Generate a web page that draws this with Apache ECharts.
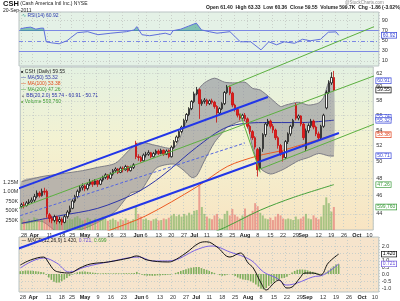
<!DOCTYPE html>
<html><head><meta charset="utf-8">
<script src="https://cdn.jsdelivr.net/npm/echarts@6/dist/echarts.min.js"></script>
<style>html,body{margin:0;padding:0;background:#fff;}#chart{width:400px;height:301px;}</style>
</head><body><div id="chart"></div>
<script>
// ---------- categories (trading days 2011) ----------
const dates = ['3/25','3/28','3/29','3/30','3/31',
 '4/1','4/4','4/5','4/6','4/7','4/8','4/11','4/12','4/13','4/14','4/15','4/18','4/19','4/20','4/21','4/25','4/26','4/27','4/28','4/29',
 '5/2','5/3','5/4','5/5','5/6','5/9','5/10','5/11','5/12','5/13','5/16','5/17','5/18','5/19','5/20','5/23','5/24','5/25','5/26','5/27','5/31',
 '6/1','6/2','6/3','6/6','6/7','6/8','6/9','6/10','6/13','6/14','6/15','6/16','6/17','6/20','6/21','6/22','6/23','6/24','6/27','6/28','6/29','6/30',
 '7/1','7/5','7/6','7/7','7/8','7/11','7/12','7/13','7/14','7/15','7/18','7/19','7/20','7/21','7/22','7/25','7/26','7/27','7/28','7/29',
 '8/1','8/2','8/3','8/4','8/5','8/8','8/9','8/10','8/11','8/12','8/15','8/16','8/17','8/18','8/19','8/22','8/23','8/24','8/25','8/26','8/29','8/30','8/31',
 '9/1','9/2','9/6','9/7','9/8','9/9','9/12','9/13','9/14','9/15','9/16','9/19','9/20','9/21','9/22','9/23','9/26','9/27','9/28','9/29','9/30',
 '10/3','10/4','10/5','10/6','10/7','10/10','10/11'];
const tickDates = ['3/28','4/1','4/11','4/18','4/25','5/2','5/9','5/16','5/23','6/1','6/6','6/13','6/20','6/27','7/1','7/11','7/18','7/25','8/1','8/8','8/15','8/22','8/29','9/1','9/12','9/19','9/26','10/3','10/10'];
const tickTexts = ['28','Apr','11','18','25','May','9','16','23','Jun','6','13','20','27','Jul','11','18','25','Aug','8','15','22','29','Sep','12','19','26','Oct','10'];
const monthNames = ['Apr','May','Jun','Jul','Aug','Sep','Oct'];

// ---------- price candles [open, close, low, high] ----------
const candles = [
 [44.8,45.0,44.6,45.2],[45.0,44.9,44.6,45.3],[44.9,45.2,44.8,45.4],[45.2,45.3,45.0,45.6],[45.3,45.5,45.1,45.8],
 [45.5,45.9,45.3,46.2],[45.9,46.3,45.7,46.6],[46.3,46.0,45.8,46.5],[46.0,46.5,45.9,46.8],[46.5,46.4,46.1,46.9],
 [46.5,44.0,43.6,46.7],[43.9,43.5,43.1,44.1],[43.5,43.3,43.0,43.8],[43.3,43.7,43.1,43.9],[43.7,43.2,42.9,43.8],
 [43.2,43.4,43.0,43.7],[43.4,43.1,42.8,43.6],[43.1,43.7,43.0,43.9],[43.7,44.2,43.5,44.4],[44.2,44.6,44.0,44.9],
 [44.6,45.4,44.5,45.6],[45.4,45.9,45.2,46.1],[45.9,46.5,45.7,46.7],[46.5,46.9,46.3,47.2],[46.9,47.1,46.6,47.4],
 [47.1,46.8,46.5,47.3],[46.8,47.3,46.6,47.5],[47.3,47.6,47.1,47.9],[47.6,47.3,47.0,47.8],[47.3,47.7,47.2,47.9],
 [47.7,47.3,47.0,47.8],[47.3,47.8,47.2,48.0],[47.8,48.1,47.6,48.3],[48.1,48.4,47.9,48.6],[48.4,48.0,47.8,48.5],
 [48.0,48.5,47.9,48.7],[48.5,48.9,48.3,49.1],[48.9,49.1,48.7,49.3],[49.1,48.7,48.5,49.2],[48.7,49.2,48.6,49.4],
 [49.2,49.0,48.7,49.4],[49.0,49.4,48.9,49.6],[49.4,48.9,48.7,49.5],[48.9,49.3,48.8,49.5],[49.3,49.6,49.1,49.8],
 [52.3,50.6,50.3,52.6],[50.6,50.5,50.1,50.9],[50.5,50.1,49.9,50.7],[50.1,50.8,50.0,51.0],[50.8,50.9,50.5,51.2],
 [50.9,51.1,50.7,51.4],[51.1,50.6,50.4,51.2],[50.6,51.0,50.5,51.2],[51.0,51.3,50.8,51.5],[51.3,51.0,50.8,51.5],
 [51.0,51.4,50.9,51.6],[51.4,50.9,50.7,51.5],[50.9,51.3,50.8,51.5],[51.4,50.6,50.4,51.5],[50.6,51.8,50.5,52.0],
 [51.8,52.5,51.6,52.7],[52.5,53.1,52.3,53.3],[53.1,53.8,52.9,54.0],[53.8,54.4,53.6,54.6],[54.4,55.3,54.2,55.5],
 [55.3,56.1,55.0,56.3],[56.1,56.9,55.9,57.1],[56.9,57.9,56.7,58.1],[57.9,59.0,57.7,59.3],[59.0,59.6,58.8,60.0],
 [59.6,57.6,55.5,59.8],[57.6,57.9,57.3,58.2],[57.9,58.1,57.6,58.4],[58.1,57.6,57.3,58.3],[57.6,58.0,57.4,58.2],
 [58.0,57.8,57.5,58.3],[57.8,57.2,56.9,58.0],[57.2,56.3,55.0,57.4],[56.3,56.9,56.0,57.1],[56.9,57.6,56.7,57.8],
 [57.6,59.2,57.4,59.4],[59.2,60.0,59.0,60.3],[60.0,59.1,58.8,60.2],[59.1,57.4,57.1,59.3],[57.4,56.8,56.5,57.6],
 [56.8,56.0,55.7,57.0],[56.0,55.6,55.3,56.2],[55.6,56.0,55.4,56.2],[56.0,55.5,55.2,56.3],[55.5,54.5,54.2,55.7],
 [54.5,53.8,53.5,54.7],[53.8,53.0,52.7,54.0],[53.0,51.8,51.5,53.2],[51.5,49.0,48.2,51.7],[49.2,51.6,48.9,51.8],
 [51.6,53.4,51.2,53.6],[53.4,54.8,53.1,55.0],[54.8,55.2,54.5,55.5],[55.2,54.5,54.2,55.4],[54.5,54.0,53.6,54.8],
 [54.0,53.0,52.7,54.2],[53.0,52.0,51.6,53.2],[52.0,51.0,50.7,52.2],[51.0,50.5,50.0,51.3],[50.5,52.5,50.3,52.7],
 [52.5,53.5,52.2,53.7],[53.5,54.5,53.2,54.7],[54.5,55.3,54.2,55.5],[57.4,55.6,55.3,57.7],[55.6,55.9,55.3,56.1],
 [55.9,54.8,54.5,56.0],[54.8,53.0,52.7,55.0],[51.6,53.9,51.3,54.2],[53.9,54.6,53.6,54.9],[54.6,55.2,54.3,55.5],
 [55.2,54.4,54.1,55.4],[54.4,53.5,53.2,54.6],[53.5,53.0,52.6,53.8],[53.0,54.5,52.8,54.7],[54.5,56.0,54.3,56.2],
 [57.0,59.2,56.8,59.5],[59.2,60.6,59.0,61.0],[60.6,61.4,60.3,62.2],[61.4,59.55,59.4,62.4]
];
// ---------- volume (thousands) ----------
const volumeK = [300,250,220,280,260,330,300,240,280,320,
 560,420,350,300,280,260,300,240,260,300,
 280,330,360,300,250,270,320,280,240,300,
 260,280,350,300,240,270,300,260,220,280,
 250,300,260,240,280,600,420,350,280,300,
 260,240,280,300,250,260,300,280,320,380,
 420,360,400,350,420,380,450,400,500,520,
 1170,600,420,350,300,280,380,420,300,280,
 420,500,380,550,400,350,300,380,560,380,
 420,500,700,620,450,380,300,280,320,260,
 350,420,380,300,280,300,280,260,350,280,
 300,350,420,300,280,380,320,280,350,650,
 850,700,480,599.76];
// ---------- overlays [dayIndex, value] ----------
const ma50Pts  = [[0,43.0],[15,43.8],[30,44.6],[45,46.3],[55,48.2],[69,51.8],[81,54.4],[95,55.0],[110,55.0],[123,55.32]];
const ma100Pts = [[30,41.8],[34,42.2],[49,43.8],[69,47.0],[81,49.4],[93,50.7],[103,51.4],[123,53.38]];
const ma200Pts = [[60,41.0],[76,42.1],[94,44.4],[107,45.8],[123,47.26]];
const bbUpper = [[0,47.6],[8,48.2],[15,48.5],[24,48.9],[30,49.3],[37,49.8],[43,51.6],[47,52.4],[53,52.0],[60,51.7],[64,54.4],[67,57.4],[69,59.3],[72,60.6],[76,61.3],[80,60.7],[84,60.6],[88,60.7],[91,59.8],[94,59.55],[98,58.4],[102,57.2],[104,57.4],[109,57.8],[113,57.4],[117,57.7],[119,58.5],[121,60.7],[123,61.0]];
const bbLower = [[0,43.0],[8,43.2],[15,42.0],[24,42.4],[30,43.1],[37,44.3],[43,46.3],[47,46.6],[53,49.2],[60,49.7],[64,48.9],[67,48.1],[69,48.3],[72,50.1],[76,52.4],[79,53.6],[81,54.4],[88,55.2],[91,51.8],[94,49.2],[98,48.5],[102,48.9],[104,49.2],[109,50.1],[113,50.5],[117,51.0],[121,50.7],[123,50.7]];
// hand drawn trend lines [dayIndex, price]
const channelUpper = [[-7.79,46.10],[97.18,58.54]];
const channelLower = [[-7.79,39.82],[124.66,53.62]];
const forkTop    = [[80.76,59.99],[144.88,70.63]];
const forkMid    = [[-7.79,43.90],[144.88,62.53]];
const forkBottom = [[93.36,48.99],[144.88,55.62]];
const forkHandle = [[86.49,56.30],[93.74,48.70]];
const dashedLine = [[-7.79,43.16],[87.63,52.33]];
// ---------- RSI ----------
const rsiPts = [[0,73.5],[2,76],[4,77],[6,73],[8,75],[9,75],[10,48],[12,46],[15,44],[18,50],[22,66],[26,68],[30,62],[35,65],[41,68],[44,71.5],[45,78],[47,62],[50,60],[56,65],[58,62],[59,70],[62,73],[65,79],[68,85],[70,71.5],[73,68],[76,65],[81,68],[83,58],[85,48],[89,48],[93,32],[96,48],[99,42],[102,48],[106,45],[109,53],[112,50],[116,53],[119,67],[122,67.6],[123,60.92]];
// ---------- MACD ----------
const macdPts = [[0,0.64],[4,1.0],[9,1.21],[11,0.79],[13,0.29],[15,0.14],[19,0.07],[23,0.43],[27,0.71],[34,0.86],[42,1.14],[45,1.29],[49,1.0],[57,0.86],[59,0.93],[64,1.5],[69,2.2],[72,2.3],[76,1.93],[81,1.21],[85,1.5],[88,0.79],[90,0.43],[93,-0.64],[95,-1.14],[98,-0.64],[100,-0.43],[103,-1.0],[105,-0.93],[108,-0.29],[110,0.07],[113,0.07],[116,-0.07],[119,0.79],[123,1.42]];
const signalPts = [[0,0.43],[9,1.14],[14,0.79],[19,0.14],[25,0.5],[34,0.86],[46,1.21],[51,0.93],[57,0.93],[69,1.8],[74,2.0],[81,1.57],[89,1.0],[94,0.14],[99,-0.29],[103,-0.79],[107,-0.64],[113,-0.21],[117,-0.07],[123,0.72]];
const macdHist = [0.20,0.22,0.25,0.25,0.24,0.22,0.20,0.18,0.15,0.12,
 -0.05,-0.25,-0.42,-0.55,-0.62,-0.60,-0.52,-0.40,-0.28,-0.15,
 -0.05,0.05,0.12,0.16,0.18,0.17,0.15,0.12,0.10,0.08,
 0.05,0.04,0.05,0.06,0.05,0.04,0.05,0.06,0.05,0.04,
 0.05,0.06,0.05,0.06,0.07,0.15,0.05,-0.05,-0.10,-0.12,
 -0.12,-0.13,-0.12,-0.10,-0.10,-0.08,-0.08,-0.06,-0.05,0.00,
 0.08,0.15,0.22,0.28,0.34,0.40,0.45,0.48,0.50,0.50,
 0.42,0.36,0.30,0.22,0.15,0.08,0.00,-0.08,-0.12,-0.10,
 -0.05,0.00,-0.05,-0.15,-0.25,-0.33,-0.40,-0.42,-0.45,-0.52,
 -0.62,-0.75,-0.90,-1.05,-1.10,-1.00,-0.85,-0.70,-0.55,-0.42,
 -0.35,-0.30,-0.28,-0.20,-0.05,0.10,0.22,0.30,0.33,0.32,
 0.30,0.26,0.20,0.15,0.10,0.05,0.02,0.00,0.10,0.25,
 0.40,0.55,0.68,0.70];
// ---------- axis ticks ----------
const rsiTicks = [10,30,50,70,90];
const priceTicks = [44,46,48,50,52,54,56,58,60,62];
const macdTicks = [-1.0,-0.5,0.0,0.5,1.0,1.5,2.0];
const volTicks = [250,500,750,1000,1250];
const volTickTexts = ['250K','500K','750K','1.00M','1.25M'];
const priceBoxes = [60.91,59.55,55.74,55.32,53.38,50.71,47.26];
const priceBoxColors = ['#3a48d8','#000000','#3a48d8','#3a48d8','#e0401a','#3a48d8','#3a9a3a'];

// ---------- layout ----------
const GL = 19, GW = 364;
const rsiTop = 12, rsiH = 54, mainTop = 67, mainH = 163, macdTop = 237, macdH = 55;
const rsiMin = 0, rsiMax = 107;
const y70 = rsiTop + rsiH * (rsiMax - 70) / (rsiMax - rsiMin);
const FONT = 'Liberation Sans';
const gridLine = {show:true, lineStyle:{color:'#c9cfc9', type:[1,2], width:1}};
const isTick = (idx, val) => tickDates.indexOf(val) >= 0;
const tickFmt = (val) => { const k = tickDates.indexOf(val); if (k < 0) return ''; const t = tickTexts[k]; return monthNames.indexOf(t) >= 0 ? '{m|' + t + '}' : t; };

function xAxisFor(gi, showLabel){
  return {type:'category', gridIndex:gi, data:dates, boundaryGap:true,
    axisLine:{show:false}, axisTick:{show:false},
    axisLabel:{show:showLabel, interval:isTick, formatter:tickFmt, fontSize:5.5, color:'#333', margin:2, fontFamily:FONT,
      rich:{m:{fontWeight:'bold', fontSize:5.5, color:'#222', fontFamily:FONT}}},
    splitLine:Object.assign({interval:isTick}, gridLine)};
}
const boxRich = {};
priceBoxColors.forEach((c,k)=>{ boxRich['b'+k] = {color:c, borderColor:c, borderWidth:0.7, backgroundColor:'#fff', padding:[0,1,0,1], fontSize:5, fontFamily:FONT}; });
const near = (a,b)=>Math.abs(a-b)<0.005;

const candleData = candles.map(c=>[c[0],c[1],c[2],c[3]]);
const volData = volumeK.map((v,i)=>{
  const up = i === 0 ? candles[i][1] >= candles[i][0] : candles[i][1] >= candles[i-1][1];
  return {value:v, itemStyle:{color: up ? 'rgba(120,175,90,0.62)' : 'rgba(228,120,115,0.65)'}};
});
function trend(data, color, width, type){
  return {type:'line', xAxisIndex:1, yAxisIndex:1, data:data, clip:false, symbol:'none', silent:true, z:10,
    lineStyle:{color:color, width:width, type:type||'solid'}};
}

const chart = echarts.init(document.getElementById('chart'), null, {renderer:'canvas'});
chart.setOption({
  animation:false,
  backgroundColor:'#ffffff',
  textStyle:{fontFamily:FONT},
  grid:[
    {left:GL, width:GW, top:rsiTop, height:rsiH, show:true, backgroundColor:'#e4f1e6', borderColor:'#b9c3c3', borderWidth:1},
    {left:GL, width:GW, top:mainTop, height:mainH, show:true, borderColor:'#b9c3c3', borderWidth:1,
      backgroundColor:{type:'linear',x:0,y:0,x2:0,y2:1,colorStops:[{offset:0,color:'#e3f1e1'},{offset:0.45,color:'#f3f2d2'},{offset:1,color:'#f8e4c2'}]}},
    {left:GL, width:GW, top:macdTop, height:macdH, show:true, backgroundColor:'#f6e4cc', borderColor:'#b9c3c3', borderWidth:1}
  ],
  xAxis:[xAxisFor(0,false), xAxisFor(1,true), xAxisFor(2,true)],
  yAxis:[
    {type:'value', gridIndex:0, position:'right', min:rsiMin, max:rsiMax,
      axisLine:{show:false}, axisTick:{show:false, customValues:rsiTicks},
      axisLabel:{customValues:rsiTicks.concat([60.92]), fontSize:5.5, color:'#333', margin:3,
        formatter:v=> near(v,60.92) ? '{b|60.92}' : String(v),
        rich:{b:{color:'#3a48d8', borderColor:'#3a48d8', borderWidth:0.7, backgroundColor:'#fff', padding:[0,1,0,1], fontSize:5}}},
      splitLine:gridLine},
    {type:'log', gridIndex:1, position:'right', min:42.3, max:63.0,
      axisLine:{show:false}, axisTick:{show:false, customValues:priceTicks},
      axisLabel:{customValues:priceTicks.concat(priceBoxes), fontSize:5.5, color:'#333', margin:3,
        formatter:v=>{ for (let k=0;k<priceBoxes.length;k++){ if (near(v,priceBoxes[k])) return '{b'+k+'|'+priceBoxes[k].toFixed(2)+'}'; } return String(Math.round(v)); },
        rich:boxRich},
      splitLine:gridLine},
    {type:'value', gridIndex:1, position:'left', min:0, max:4250, interval:250,
      axisLine:{show:false}, axisTick:{show:false}, splitLine:{show:false},
      axisLabel:{fontSize:5.5, color:'#333', margin:2, formatter:v=>{ const k = volTicks.indexOf(v); return k>=0 ? volTickTexts[k] : ''; }}},
    {type:'value', gridIndex:1, position:'right', min:0, max:4250,
      axisLine:{show:false}, axisTick:{show:false}, splitLine:{show:false},
      axisLabel:{customValues:[599.76], fontSize:5, margin:3, formatter:()=>'{g|599,760}',
        rich:{g:{color:'#3a9a3a', borderColor:'#3a9a3a', borderWidth:0.7, backgroundColor:'#fff', padding:[0,1,0,1], fontSize:5}}}},
    {type:'value', gridIndex:2, position:'right', min:-1.286, max:2.643,
      axisLine:{show:false}, axisTick:{show:false, customValues:macdTicks},
      axisLabel:{customValues:macdTicks.concat([1.42,0.721]), fontSize:5.5, color:'#333', margin:3,
        formatter:v=> near(v,1.42) ? '{k|1.420}' : near(v,0.721) ? '{p|0.721}' : v.toFixed(1),
        rich:{k:{color:'#000', borderColor:'#000', borderWidth:0.7, backgroundColor:'#fff', padding:[0,1,0,1], fontSize:5},
              p:{color:'#6a50d8', borderColor:'#6a50d8', borderWidth:0.7, backgroundColor:'#fff', padding:[0,1,0,1], fontSize:5}}},
      splitLine:gridLine}
  ],
  series:[
    // RSI
    {type:'line', xAxisIndex:0, yAxisIndex:0, data:rsiPts, symbol:'none', silent:true, z:5,
      lineStyle:{color:'#5f6fdc', width:1},
      areaStyle:{origin:'start', color:{type:'linear', x:0, y:0, x2:0, y2:301, global:true,
        colorStops:[{offset:0,color:'rgba(40,150,130,0.75)'},{offset:y70/301,color:'rgba(40,150,130,0.75)'},{offset:y70/301+0.0005,color:'rgba(0,0,0,0)'},{offset:1,color:'rgba(0,0,0,0)'}]}},
      markLine:{silent:true, symbol:'none', label:{show:false}, lineStyle:{color:'#7c89e4', width:1, type:'solid'},
        data:[{yAxis:70},{yAxis:30},{yAxis:50, lineStyle:{type:[4,2,1,2]}}]}},
    // Bollinger band
    {type:'custom', xAxisIndex:1, yAxisIndex:1, data:[[0,50]], clip:true, silent:true, z:1,
      renderItem:(params, api)=>{
        const up = bbUpper.map(p=>api.coord(p));
        const lo = bbLower.map(p=>api.coord(p));
        return {type:'group', children:[
          {type:'polygon', shape:{points:up.concat(lo.slice().reverse()), smooth:0.25}, style:{fill:'rgba(135,135,148,0.55)'}},
          {type:'polyline', shape:{points:up, smooth:0.25}, style:{stroke:'#7d7d86', lineWidth:1, fill:null}},
          {type:'polyline', shape:{points:lo, smooth:0.25}, style:{stroke:'#7d7d86', lineWidth:1, fill:null}}
        ]};
      }},
    // Volume
    {type:'bar', xAxisIndex:1, yAxisIndex:2, data:volData, barWidth:2, silent:true, z:2},
    // Moving averages
    {type:'line', xAxisIndex:1, yAxisIndex:1, data:ma200Pts, symbol:'none', smooth:0.3, silent:true, z:3, lineStyle:{color:'#45a03a', width:1}},
    {type:'line', xAxisIndex:1, yAxisIndex:1, data:ma100Pts, symbol:'none', smooth:0.3, silent:true, z:3, lineStyle:{color:'#ec5a22', width:1}},
    {type:'line', xAxisIndex:1, yAxisIndex:1, data:ma50Pts, symbol:'none', smooth:0.3, silent:true, z:3, lineStyle:{color:'#2c34a8', width:1}},
    // Candles
    {type:'candlestick', xAxisIndex:1, yAxisIndex:1, data:candleData, barWidth:2, silent:true, z:6,
      itemStyle:{color:'#ffffff', color0:'#e41c1c', borderColor:'#111111', borderColor0:'#c80c0c', borderWidth:0.8}},
    // Trend lines
    trend(channelUpper,'#2236e8',2),
    trend(channelLower,'#2236e8',2),
    trend(forkTop,'#5cb040',1),
    trend(forkMid,'#5cb040',1),
    trend(forkBottom,'#5cb040',1),
    trend(forkHandle,'#5cb040',1),
    trend(dashedLine,'#5566e0',1,[3,2]),
    // MACD
    {type:'bar', xAxisIndex:2, yAxisIndex:4, data:macdHist, barWidth:1.6, silent:true, z:2,
      itemStyle:{color:'#7eae5c'}},
    {type:'line', xAxisIndex:2, yAxisIndex:4, data:signalPts, symbol:'none', smooth:0.4, silent:true, z:4, lineStyle:{color:'#7a62e6', width:1}},
    {type:'line', xAxisIndex:2, yAxisIndex:4, data:macdPts, symbol:'none', smooth:0.4, silent:true, z:5, lineStyle:{color:'#111', width:1}}
  ],
  graphic:[
    {type:'text', left:3, top:0, style:{text:'{b|CSH} (Cash America Intl Inc.) NYSE', fontSize:5, fill:'#222', fontFamily:FONT,
      rich:{b:{fontWeight:'bold', fontSize:7.5, fill:'#111', fontFamily:FONT}}}},
    {type:'text', left:3, top:8, style:{text:'20-Sep-2011', fontSize:5, fill:'#222', fontFamily:FONT}},
    {type:'text', left:345, top:0, style:{text:'@StockCharts.com', fontSize:4.5, fill:'#888', fontFamily:FONT}},
    {type:'text', left:206, top:5, style:{text:'Open 61.40  High 63.33  Low 60.36  Close 59.55  Volume 599.7K  Chg -1.86 (-3.02%) {r|▼}', fontSize:5, fontWeight:'bold', fill:'#222', fontFamily:FONT,
      rich:{r:{fill:'#d00', fontSize:5}}}},
    {type:'text', left:22, top:13, style:{text:'{i|∿} RSI(14) 60.92', fontSize:5, fill:'#2838b0', fontFamily:FONT, rich:{i:{fill:'#2a9a8a', fontSize:5}}}},
    {type:'text', left:21, top:69, style:{text:'{i|■} CSH (Daily) 59.55', fontSize:5, fill:'#222', fontFamily:FONT, rich:{i:{fill:'#333', fontSize:4}}}},
    {type:'text', left:21, top:75, style:{text:'{i|—} MA(50) 55.32', fontSize:5, fill:'#2c34a8', fontFamily:FONT, rich:{i:{fill:'#2c34a8', fontSize:5}}}},
    {type:'text', left:21, top:81, style:{text:'{i|—} MA(100) 53.38', fontSize:5, fill:'#e04a18', fontFamily:FONT, rich:{i:{fill:'#e04a18', fontSize:5}}}},
    {type:'text', left:21, top:87, style:{text:'{i|—} MA(200) 47.26', fontSize:5, fill:'#3a9a30', fontFamily:FONT, rich:{i:{fill:'#3a9a30', fontSize:5}}}},
    {type:'text', left:21, top:93, style:{text:'{i|▲} BB(20,2.0) 55.74 - 60.91 - 50.71', fontSize:5, fill:'#2c34a8', fontFamily:FONT, rich:{i:{fill:'#888', fontSize:4}}}},
    {type:'text', left:21, top:99, style:{text:'{i|■} Volume 599,760', fontSize:5, fill:'#3a9a30', fontFamily:FONT, rich:{i:{fill:'#7aae5a', fontSize:4}}}},
    {type:'text', left:21, top:238, style:{text:'{i|—} MACD(12,26,9) 1.420, {p|0.721,} {g|0.699}', fontSize:5, fill:'#222', fontFamily:FONT,
      rich:{i:{fill:'#222', fontSize:5}, p:{fill:'#6a50d8', fontSize:5}, g:{fill:'#3a9a30', fontSize:5}}}}
  ]
});
</script>
</body></html>
